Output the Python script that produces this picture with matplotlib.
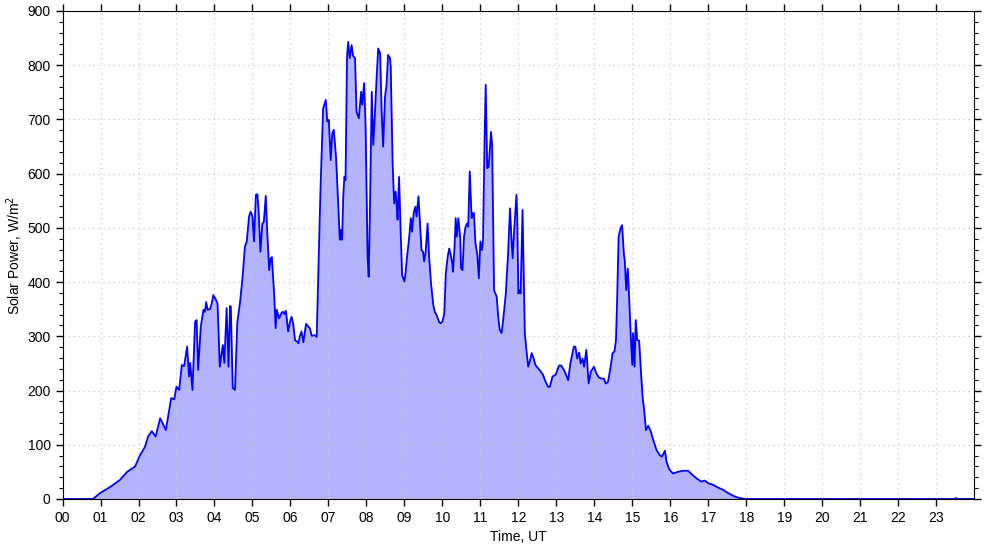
import matplotlib
matplotlib.use("Agg")
import matplotlib.pyplot as plt
from matplotlib.ticker import MultipleLocator, NullLocator

# time of day in hours (UT) and solar power in W/m^2
hours = [
    0.00, 0.80, 0.99, 1.25, 1.51, 1.70, 1.91, 2.04, 2.17, 2.25, 2.35, 2.45, 2.57, 2.72,
    2.86, 2.94, 3.00, 3.07, 3.14, 3.20, 3.28, 3.33, 3.36, 3.42, 3.49, 3.53, 3.57, 3.64,
    3.71, 3.75, 3.78, 3.82, 3.88, 3.93, 3.97, 4.04, 4.08, 4.14, 4.22, 4.26, 4.32, 4.37,
    4.41, 4.43, 4.48, 4.54, 4.60, 4.67, 4.74, 4.80, 4.85, 4.91, 4.95, 5.00, 5.04, 5.09,
    5.13, 5.16, 5.21, 5.26, 5.30, 5.35, 5.39, 5.44, 5.48, 5.51, 5.57, 5.61, 5.64, 5.70,
    5.77, 5.81, 5.84, 5.88, 5.94, 5.99, 6.03, 6.07, 6.12, 6.18, 6.21, 6.25, 6.29, 6.34,
    6.41, 6.47, 6.51, 6.56, 6.64, 6.69, 6.73, 6.79, 6.86, 6.93, 6.97, 7.01, 7.06, 7.10,
    7.14, 7.20, 7.26, 7.30, 7.33, 7.36, 7.39, 7.42, 7.45, 7.49, 7.52, 7.56, 7.61, 7.65,
    7.70, 7.74, 7.80, 7.86, 7.89, 7.94, 7.98, 8.03, 8.06, 8.09, 8.14, 8.18, 8.22, 8.27,
    8.31, 8.36, 8.40, 8.44, 8.49, 8.53, 8.57, 8.62, 8.64, 8.69, 8.73, 8.77, 8.80, 8.82,
    8.86, 8.90, 8.94, 9.00, 9.03, 9.07, 9.12, 9.17, 9.20, 9.25, 9.29, 9.32, 9.37, 9.40,
    9.45, 9.49, 9.52, 9.56, 9.61, 9.65, 9.70, 9.76, 9.80, 9.85, 9.91, 9.95, 10.00, 10.05,
    10.09, 10.14, 10.18, 10.22, 10.26, 10.28, 10.32, 10.35, 10.38, 10.42, 10.47, 10.49,
    10.53, 10.57, 10.61, 10.65, 10.68, 10.72, 10.77, 10.79, 10.83, 10.87, 10.92, 10.96,
    11.00, 11.04, 11.07, 11.11, 11.14, 11.18, 11.22, 11.28, 11.31, 11.36, 11.43, 11.47,
    11.51, 11.56, 11.60, 11.67, 11.73, 11.78, 11.82, 11.85, 11.89, 11.95, 11.97, 12.00,
    12.04, 12.06, 12.11, 12.17, 12.22, 12.26, 12.31, 12.35, 12.39, 12.45, 12.52, 12.59,
    12.65, 12.70, 12.78, 12.83, 12.90, 12.98, 13.07, 13.13, 13.22, 13.31, 13.37, 13.46,
    13.50, 13.55, 13.60, 13.64, 13.69, 13.73, 13.79, 13.85, 13.91, 13.99, 14.05, 14.12,
    14.19, 14.25, 14.30, 14.36, 14.43, 14.48, 14.53, 14.57, 14.60, 14.64, 14.69, 14.73,
    14.78, 14.80, 14.84, 14.88, 14.91, 14.96, 15.00, 15.02, 15.06, 15.09, 15.13, 15.18,
    15.22, 15.27, 15.32, 15.36, 15.42, 15.49, 15.55, 15.64, 15.72, 15.78, 15.86, 15.90,
    15.97, 16.07, 16.20, 16.34, 16.47, 16.56, 16.69, 16.82, 16.91, 17.00, 17.13, 17.26,
    17.39, 17.52, 17.65, 17.78, 17.92, 18.00, 23.50, 23.53, 23.56, 24.00,
]
power = [
    0, 0, 11, 22, 35, 50, 60, 81, 96, 115, 125, 115, 149, 127,
    186, 184, 207, 201, 247, 245, 281, 226, 251, 201, 327, 330, 238, 318,
    349, 345, 363, 349, 350, 361, 376, 367, 361, 244, 284, 251, 352, 244,
    356, 355, 205, 201, 325, 361, 410, 465, 475, 521, 530, 521, 475, 561,
    562, 533, 456, 508, 511, 559, 490, 422, 444, 446, 379, 315, 349, 333,
    344, 345, 341, 347, 309, 327, 336, 324, 293, 290, 287, 301, 309, 289,
    323, 318, 315, 301, 302, 299, 404, 570, 720, 736, 696, 699, 625, 674,
    681, 631, 539, 478, 496, 478, 558, 594, 588, 816, 843, 813, 837, 817,
    813, 714, 702, 751, 727, 767, 681, 447, 410, 521, 751, 653, 705, 779,
    831, 822, 717, 650, 742, 764, 819, 813, 797, 619, 545, 567, 539, 515,
    594, 496, 413, 401, 416, 447, 478, 518, 493, 530, 539, 521, 558, 521,
    459, 456, 438, 456, 508, 447, 398, 358, 345, 339, 327, 324, 327, 342,
    416, 447, 462, 450, 435, 419, 465, 518, 484, 518, 481, 426,
    422, 484, 502, 508, 502, 604, 518, 527, 527, 472, 450, 407,
    475, 459, 478, 662, 764, 610, 613, 677, 653, 385, 373, 336,
    312, 306, 330, 379, 453, 536, 478, 444, 496, 561, 521, 379,
    385, 379, 533, 306, 269, 244, 256, 269, 262, 247, 241, 235,
    229, 219, 207, 207, 226, 229, 246, 246, 235, 219, 250, 281,
    281, 259, 270, 250, 259, 244, 275, 213, 235, 244, 232, 224,
    222, 222, 213, 216, 244, 269, 272, 293, 367, 484, 499, 505,
    450, 441, 385, 425, 382, 299, 247, 306, 244, 330, 293, 292,
    244, 189, 158, 127, 135, 124, 109, 90, 81, 78, 89, 69,
    55, 47, 50, 52, 52, 46, 38, 32, 34, 29, 26, 21,
    17, 11, 6, 2.5, 0.5, 0, 0, 2, 0, 0,
]
hour_labels = ["%02d" % h for h in range(24)]

plt.rcParams['font.family'] = ['Liberation Sans', 'DejaVu Sans']
plt.rcParams['font.size'] = 10

fig = plt.figure(figsize=(9.85, 5.47), dpi=100)
ax = fig.add_axes([0.0635, 0.0878, 0.9255, 0.8921])

ax.fill_between(hours, power, 0, color='#b3b3ff', linewidth=0)
ax.plot(hours, power, color='blue', linewidth=1.3)

ax.set_xlim(0, 24)
ax.set_ylim(0, 900)
ax.set_xticks(range(24))
ax.set_xticklabels(hour_labels)
ax.xaxis.set_minor_locator(NullLocator())
ax.yaxis.set_major_locator(MultipleLocator(100))
ax.yaxis.set_minor_locator(MultipleLocator(20))

ax.tick_params(which='both', direction='out', top=True, right=True,
               labeltop=False, labelright=False)
ax.tick_params(which='major', length=5, width=1)
ax.tick_params(which='minor', length=3, width=0.8)
ax.grid(True, which='major', color='#c8c8c8', linestyle=(0, (1, 3)), linewidth=0.9)

ax.set_xlabel('Time, UT', labelpad=4)
ax.set_ylabel('Solar Power, W/m$^2$', va='center')
ax.yaxis.set_label_coords(-0.053, 0.5)

fig.savefig('out.png', dpi=100)
